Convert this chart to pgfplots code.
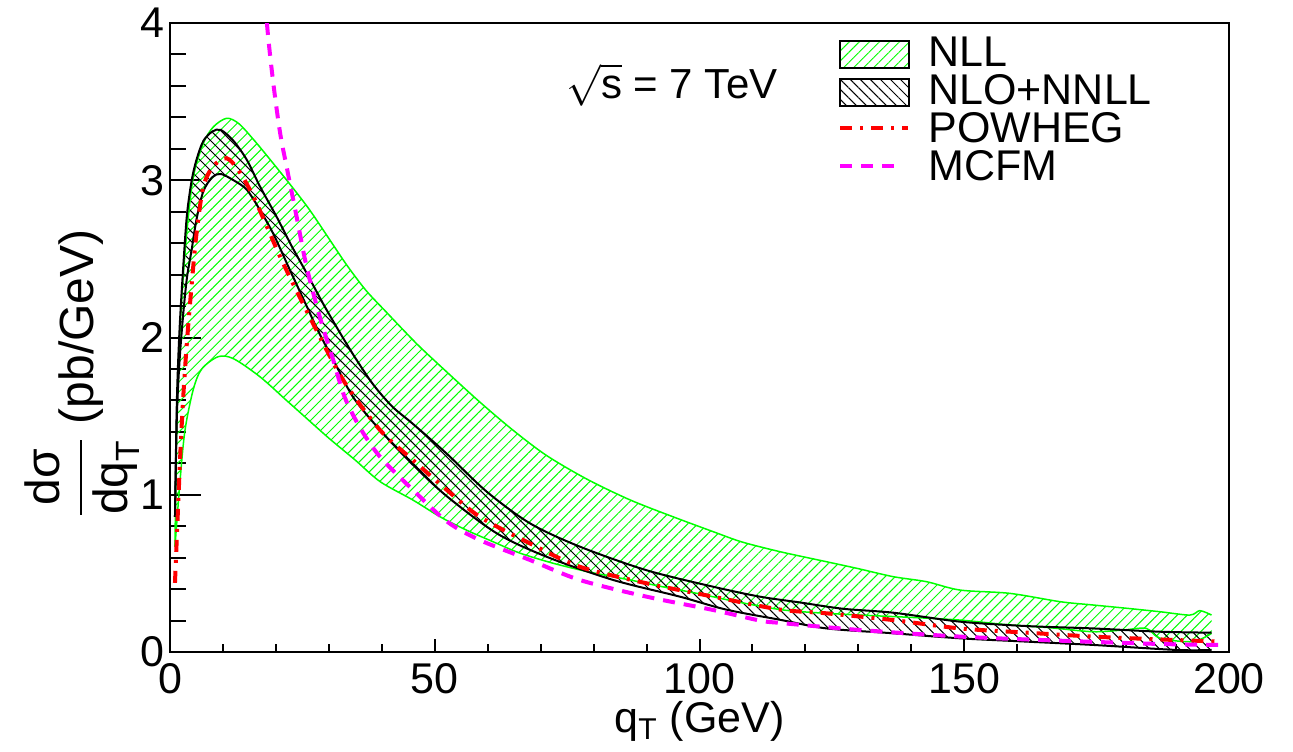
\documentclass[border=0pt]{standalone}
\usepackage{fontspec}
\setmainfont{Liberation Sans}
\usepackage{amsmath}
\usepackage{pgfplots}
\pgfplotsset{compat=1.18}
\usepgfplotslibrary{fillbetween}
\usetikzlibrary{patterns.meta}
\definecolor{rgreen}{RGB}{0,255,0}
\definecolor{rmag}{RGB}{255,0,255}
\definecolor{rred}{RGB}{255,0,0}
\newcommand{\fs}{\fontsize{21.5}{25}\selectfont}
\begin{document}
\begin{tikzpicture}
\begin{axis}[
  at={(0,0)}, anchor=south west,
  width=529.5pt, height=314.5pt, scale only axis,
  xmin=0, xmax=200, ymin=0, ymax=4,
  xtick={0,50,100,150,200}, ytick={0,1,2,3,4},
  minor x tick num=4, minor y tick num=4,
  tick align=inside, tick pos=left,
  axis line style={line width=1pt},
  every tick/.style={black, line width=1pt},
  xtick style={/pgfplots/major tick length=6.5pt, /pgfplots/minor tick length=4pt},
  ytick style={/pgfplots/major tick length=15.5pt, /pgfplots/minor tick length=8pt},
  /pgf/number format/assume math mode=true,
  xticklabel style={font=\fs, inner sep=0pt, anchor=north, yshift=-5.5pt},
  yticklabel style={font=\fs, inner sep=0pt, anchor=east, xshift=-2.5pt},
  xlabel={q\textsubscript{T} (GeV)},
  xlabel style={font=\fs, at={(axis description cs:0.5,-0.111)}, anchor=center},
  ylabel={$\displaystyle\frac{\text{dσ}}{\text{dq}_{\text{T}}}$ (pb/GeV)},
  ylabel style={font=\fontsize{24}{28}\selectfont, at={(axis description cs:-0.083,0.443)}, anchor=center},
  legend style={at={(axis description cs:0.6308,0.9814)}, anchor=north west,
    draw=none, fill=none, inner sep=0pt, row sep=0pt, font=\fs,
    nodes={inner sep=0pt, text height=15.6pt, text depth=3.4pt},
    /tikz/every odd column/.append style={column sep=9pt}},
  legend cell align=left,
]
% legend entries
\addlegendimage{legend image code/.code={\draw[black, line width=1pt, pattern={Lines[angle=45,distance=3.54pt,line width=0.5pt]}, pattern color=rgreen] (0pt,-6.75pt) rectangle (34.5pt,6.75pt);}}
\addlegendentry{NLL}
\addlegendimage{legend image code/.code={\draw[black, line width=1pt, pattern={Lines[angle=-45,distance=3.54pt,line width=0.5pt]}, pattern color=black] (0pt,-6.75pt) rectangle (34.5pt,6.75pt);}}
\addlegendentry{NLO+NNLL}
\addlegendimage{legend image code/.code={\draw[rred, line width=2pt, dash pattern=on 6pt off 4pt on 1.5pt off 4pt] (0pt,1pt) -- (34pt,1pt);}}
\addlegendentry{POWHEG}
\addlegendimage{legend image code/.code={\draw[rmag, line width=2pt, dash pattern=on 6pt off 4.5pt] (0pt,1pt) -- (31pt,1pt);}}
\addlegendentry{MCFM}

% NLL band
\addplot[rgreen, line width=0.75pt, smooth, name path=nllU, forget plot] coordinates {
(0.94,0.67) (1.2,1.35) (1.57,1.81) (2.2,2.24) (3.15,2.66) (4.4,3.02) (6.3,3.235) (8.2,3.34) (10.7,3.394) (13,3.36) (16,3.25) (19.5,3.107) (23,2.96) (26.4,2.81) (30,2.63) (33.4,2.46) (37,2.30) (40.9,2.16) (44,2.05) (47.2,1.94) (52.3,1.78) (58.5,1.59) (64.8,1.41) (71.1,1.25) (78.7,1.10) (86.9,0.967) (95,0.86) (102.6,0.765) (108,0.70) (115.2,0.638) (124,0.574) (130,0.53) (136.6,0.479) (142.9,0.447) (149.2,0.394) (158.6,0.373) (168.1,0.32) (174,0.30) (180.7,0.278) (187,0.256) (192.6,0.235) (194.5,0.263) (196.7,0.235)};
\addplot[rgreen, line width=0.75pt, smooth, name path=nllL, forget plot] coordinates {
(0.94,0.67) (1.9,1.09) (2.83,1.41) (4.4,1.67) (6,1.80) (9.1,1.878) (12,1.865) (17,1.75) (22,1.60) (25,1.51) (30,1.36) (35,1.22) (39.7,1.083) (45.9,0.966) (51,0.86) (56,0.775) (61.1,0.70) (66,0.63) (72.4,0.564) (79,0.51) (86.9,0.458) (93,0.415) (99.5,0.373) (107,0.32) (115.2,0.27) (122,0.25) (130.3,0.235) (140,0.22) (149.2,0.203) (158.6,0.172) (166,0.155) (174.3,0.129) (180,0.14) (184.4,0.15) (187,0.087) (193.2,0.066) (196.7,0.119)};
\addplot[draw=none, pattern={Lines[angle=45,distance=3.54pt,line width=0.5pt]}, pattern color=rgreen, forget plot] fill between[of=nllU and nllL];

% NLO+NNLL band
\addplot[black, line width=1pt, smooth, name path=nloU, forget plot] coordinates {
(0.94,0.86) (1.3,1.6) (1.8,2.05) (2.5,2.45) (3.2,2.78) (4.1,3.0) (5,3.13) (6.3,3.25) (8,3.31) (9.6,3.32) (12,3.25) (14.5,3.13) (17,2.96) (20.1,2.77) (23,2.58) (25.8,2.41) (29,2.21) (32.1,2.03) (35,1.87) (38.4,1.70) (42,1.56) (45.9,1.45) (52.3,1.26) (59.8,1.02) (68,0.818) (77.4,0.67) (90,0.52) (102.6,0.415) (111.4,0.352) (119,0.315) (127.1,0.275) (136.6,0.25) (149.2,0.193) (161.8,0.165) (174.3,0.15) (187,0.129) (196.7,0.123)};
\addplot[black, line width=1pt, smooth, name path=nloL, forget plot] coordinates {
(0.94,0.86) (1.3,1.5) (1.8,1.85) (2.5,2.15) (3.2,2.38) (4.1,2.56) (5,2.75) (6.3,2.93) (8,3.02) (9.6,3.04) (12,3.0) (14.5,2.94) (17,2.81) (19.5,2.66) (22.5,2.44) (25.8,2.20) (28,2.04) (30.8,1.86) (34.6,1.62) (39.7,1.41) (45.9,1.19) (52.3,0.99) (61.7,0.755) (71.1,0.606) (83.7,0.458) (96.3,0.352) (105,0.27) (115.2,0.205) (124,0.15) (136.6,0.119) (149.2,0.087) (161.8,0.066) (174.3,0.045) (190.1,0.013) (196.7,0.013)};
\addplot[draw=none, pattern={Lines[angle=-45,distance=3.54pt,line width=0.5pt]}, pattern color=black, forget plot] fill between[of=nloU and nloL];

% POWHEG
\addplot[rred, line width=2pt, smooth, dash pattern=on 6pt off 4pt on 1.5pt off 4pt, forget plot] coordinates {
(0.94,0.44) (1.5,0.9) (2,1.3) (2.5,1.62) (3.15,1.95) (4.1,2.34) (5,2.66) (6.3,2.96) (8.2,3.09) (10.7,3.14) (13,3.06) (15.7,2.90) (18.5,2.69) (21.4,2.47) (26.4,2.13) (32.7,1.73) (39.7,1.41) (45.9,1.22) (52.3,1.03) (58.5,0.86) (68,0.69) (77.4,0.542) (90,0.437) (102.6,0.352) (115.2,0.27) (124,0.246) (136.6,0.203) (149.2,0.15) (161.8,0.123) (174.3,0.098) (187,0.08) (198.3,0.066)};

% MCFM
\addplot[rmag, line width=2pt, smooth, dash pattern=on 6pt off 4.5pt, forget plot] coordinates {
(15.5,5.6) (17,4.6) (18.3,4.0) (19.5,3.62) (20.8,3.30) (22,3.09) (23.9,2.77) (25.8,2.45) (28.3,2.13) (30.8,1.86) (33,1.62) (36,1.42) (39.7,1.24) (45.9,1.03) (52.3,0.83) (58.5,0.712) (68,0.585) (77.4,0.458) (90,0.352) (102.6,0.267) (111.4,0.2) (115.2,0.185) (130.3,0.14) (149.2,0.098) (168.1,0.072) (187,0.051) (198.3,0.045)};

\node[font=\fontsize{21}{25}\selectfont, anchor=center] at (axis cs:94.8,3.606) {$\sqrt{\text{s}}$ = 7 TeV};
\end{axis}
\pgfresetboundingbox
\path[use as bounding box] (-85pt,-49.5pt) rectangle (561.5pt,326pt);
\end{tikzpicture}
\end{document}
